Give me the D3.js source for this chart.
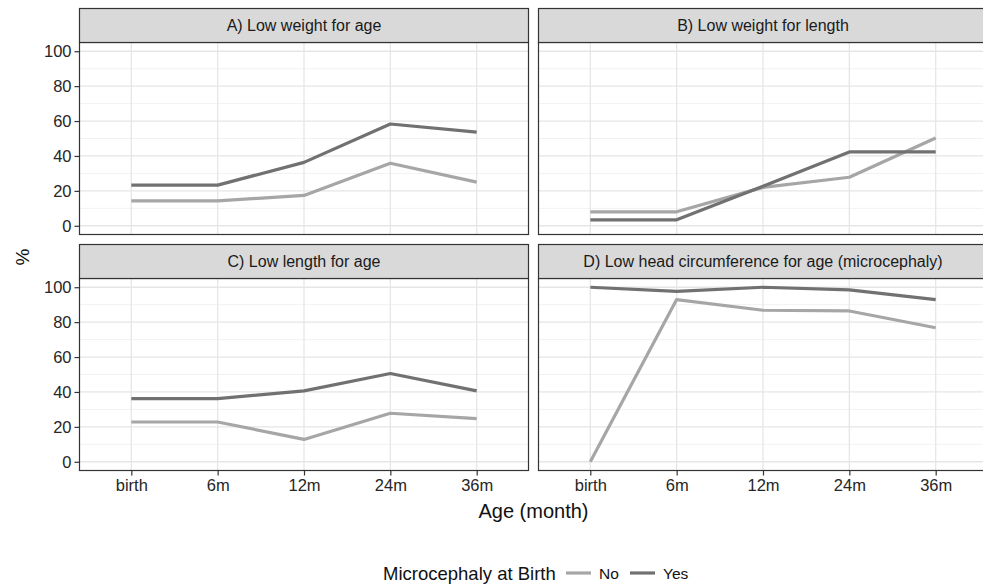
<!DOCTYPE html>
<html>
<head>
<meta charset="utf-8">
<script src="https://cdn.jsdelivr.net/npm/d3@7"></script>
<style>
  html, body { margin: 0; padding: 0; background: #fff; }
  svg { display: block; font-family: "Liberation Sans", Arial, sans-serif; }
</style>
</head>
<body>
<svg id="chart" width="983" height="588"></svg>
<script>
// ---- data ----
const ages = ["birth", "6m", "12m", "24m", "36m"];
const groups = ["No", "Yes"];
const panelTitles = [
  "A) Low weight for age",
  "B) Low weight for length",
  "C) Low length for age",
  "D) Low head circumference for age (microcephaly)"
];
const aNo  = [14.3, 14.3, 17.4, 35.8, 25.0];
const aYes = [23.3, 23.3, 36.3, 58.3, 53.7];
const bNo  = [8.0, 8.0, 22.0, 27.8, 50.3];
const bYes = [3.4, 3.4, 22.6, 42.3, 42.3];
const cNo  = [22.8, 22.8, 12.8, 27.8, 24.7];
const cYes = [36.2, 36.2, 40.6, 50.6, 40.6];
const dNo  = [0.0, 92.9, 86.8, 86.4, 76.8];
const dYes = [100.0, 97.6, 100.0, 98.5, 92.9];
const yTicks = [0, 20, 40, 60, 80, 100];
const yMinor = [10, 30, 50, 70, 90];
const xTitle = "Age (month)";
const yTitle = "%";
const legendTitle = "Microcephaly at Birth";

const panelData = [
  { No: aNo, Yes: aYes },
  { No: bNo, Yes: bYes },
  { No: cNo, Yes: cYes },
  { No: dNo, Yes: dYes }
];

const color = d3.scaleOrdinal().domain(groups).range(["#a6a6a6", "#717171"]);

// ---- layout ----
const svg = d3.select("#chart");
const colX = [79.5, 538.5];
const panelW = 449;
const stripTop = [8.5, 244.5];
const stripH = 34;
const panelH = 192;

const x = d3.scalePoint().domain(ages).range([0, panelW]).padding(0.6);
const y = d3.scaleLinear().domain([-5, 105]).range([panelH, 0]);

const txt = "#262626";

panelData.forEach((pd, i) => {
  const col = i % 2, row = Math.floor(i / 2);
  const ox = colX[col];
  const sy = stripTop[row];
  const oy = sy + stripH;
  const g = svg.append("g").attr("transform", `translate(${ox},${oy})`);

  // strip
  svg.append("rect")
    .attr("x", ox).attr("y", sy).attr("width", panelW).attr("height", stripH)
    .attr("fill", "#d9d9d9").attr("stroke", "#333").attr("stroke-width", 1.2);
  svg.append("text")
    .attr("x", ox + panelW / 2).attr("y", sy + stripH / 2 + 5.5)
    .attr("text-anchor", "middle").attr("font-size", 16).attr("fill", "#1a1a1a")
    .text(panelTitles[i]);

  // background + grid
  g.append("rect").attr("width", panelW).attr("height", panelH).attr("fill", "#fff");
  g.selectAll(".minor").data(yMinor).join("line")
    .attr("x1", 0).attr("x2", panelW)
    .attr("y1", d => y(d)).attr("y2", d => y(d))
    .attr("stroke", "#f2f2f2").attr("stroke-width", 1);
  g.selectAll(".major").data(yTicks).join("line")
    .attr("x1", 0).attr("x2", panelW)
    .attr("y1", d => y(d)).attr("y2", d => y(d))
    .attr("stroke", "#e6e6e6").attr("stroke-width", 1.3);
  g.selectAll(".vx").data(ages).join("line")
    .attr("x1", d => x(d)).attr("x2", d => x(d))
    .attr("y1", 0).attr("y2", panelH)
    .attr("stroke", "#e6e6e6").attr("stroke-width", 1.3);

  // lines
  const line = d3.line().x((d, j) => x(ages[j])).y(d => y(d));
  groups.forEach(gr => {
    g.append("path").datum(pd[gr])
      .attr("d", line)
      .attr("fill", "none")
      .attr("stroke", color(gr))
      .attr("stroke-width", 3.2)
      .attr("stroke-linejoin", "round");
  });

  // border
  g.append("rect").attr("width", panelW).attr("height", panelH)
    .attr("fill", "none").attr("stroke", "#333").attr("stroke-width", 1.2);

  // y axis on left column
  if (col === 0) {
    const ya = g.append("g").call(d3.axisLeft(y).tickValues(yTicks).tickSize(5).tickPadding(3));
    ya.select(".domain").remove();
    ya.selectAll(".tick line").attr("stroke", "#333").attr("stroke-width", 1.2);
    ya.selectAll(".tick text").attr("font-size", 16.5).attr("fill", txt)
      .attr("font-family", "Liberation Sans, Arial, sans-serif");
  }
  // x axis on bottom row
  if (row === 1) {
    const xa = g.append("g").attr("transform", `translate(0,${panelH})`)
      .call(d3.axisBottom(x).tickSize(5).tickPadding(4));
    xa.select(".domain").remove();
    xa.selectAll(".tick line").attr("stroke", "#333").attr("stroke-width", 1.2);
    xa.selectAll(".tick text").attr("font-size", 16.5).attr("fill", txt)
      .attr("font-family", "Liberation Sans, Arial, sans-serif");
  }
});

// axis titles
svg.append("text")
  .attr("x", (colX[0] + colX[1] + panelW) / 2).attr("y", 518)
  .attr("text-anchor", "middle").attr("font-size", 20).attr("fill", "#111")
  .text(xTitle);
svg.append("text")
  .attr("transform", `translate(29,257) rotate(-90)`)
  .attr("text-anchor", "middle").attr("font-size", 19).attr("fill", "#111")
  .text(yTitle);

// legend
const lg = svg.append("g").attr("transform", "translate(0,573)");
lg.append("text").attr("x", 383).attr("y", 6.5).attr("font-size", 18.5).attr("fill", "#111")
  .text(legendTitle);
const keyX = [566, 630];
groups.forEach((gr, k) => {
  lg.append("line").attr("x1", keyX[k]).attr("x2", keyX[k] + 25)
    .attr("y1", 0).attr("y2", 0)
    .attr("stroke", color(gr)).attr("stroke-width", 3.2);
  lg.append("text").attr("x", keyX[k] + 33).attr("y", 5.5).attr("font-size", 15.5)
    .attr("fill", "#111").text(gr);
});
</script>
</body>
</html>
